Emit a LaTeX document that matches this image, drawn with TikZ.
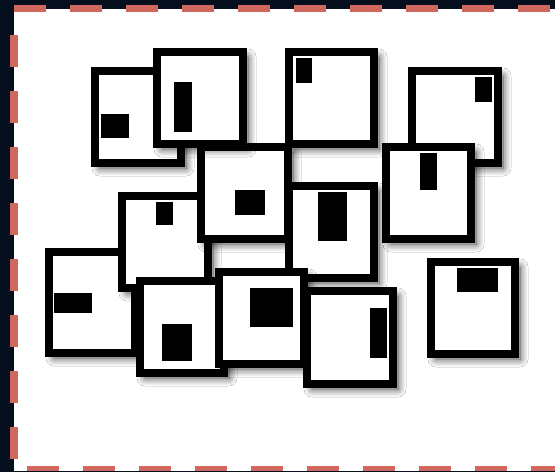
\documentclass[tikz,border=0pt]{standalone}
\usetikzlibrary{shadows.blur}
\definecolor{navybg}{RGB}{5,14,28}
\definecolor{dashred}{RGB}{209,104,96}
\tikzset{
  tile/.style={draw=black, fill=white, line width=8pt,
    blur shadow={shadow xshift=5pt, shadow yshift=-5pt, shadow blur radius=8pt, shadow opacity=75, shadow blur steps=14}},
  mark block/.style={fill=black},
  frameline/.style={draw=dashred, dash pattern=on 32pt off 24pt}
}
\newcommand{\drawtile}[8]{%
  \path[tile] (#1+4,#2+4) rectangle (#3-4,#4-4);
  \fill[mark block] (#5,#6) rectangle (#7,#8);
}
\begin{document}
\begin{tikzpicture}[x=1pt,y=-1pt]
\useasboundingbox (0,0) rectangle (555,472);
\fill[navybg] (0,0) rectangle (555,472);
\fill[white] (14,8.5) rectangle (560,471);
\draw[frameline, line width=7.5pt] (14,8.5) -- (560,8.5);
\draw[frameline, line width=8pt] (14,35) -- (14,472);
\draw[frameline, line width=5pt] (27,468.5) -- (560,468.5);
\fill[navybg] (14,471) rectangle (560,472);
% tiles, bottom to top
\drawtile{91}{67}{185}{167}{101}{114}{129}{138}
\drawtile{285}{48}{378}{148}{296}{58}{312}{83}
\drawtile{408}{67}{502}{167}{475}{77}{492}{102}
\drawtile{382}{143}{475}{243}{420}{153}{437}{190}
\drawtile{427}{258}{519}{358}{457}{268}{498}{292}
\drawtile{45}{248}{139}{357}{54}{293}{92}{313}
\drawtile{118}{192}{212}{292}{156}{202}{173}{225}
\drawtile{197}{143}{292}{243}{235}{190}{265}{215}
\drawtile{153}{48}{247}{148}{174}{82}{192}{132}
\drawtile{285}{182}{378}{282}{318}{192}{347}{241}
\drawtile{136}{277}{228}{377}{162}{324}{192}{361}
\drawtile{215}{268}{308}{368}{250}{288}{293}{327}
\drawtile{303}{287}{397}{388}{370}{308}{387}{358}
\end{tikzpicture}
\end{document}
